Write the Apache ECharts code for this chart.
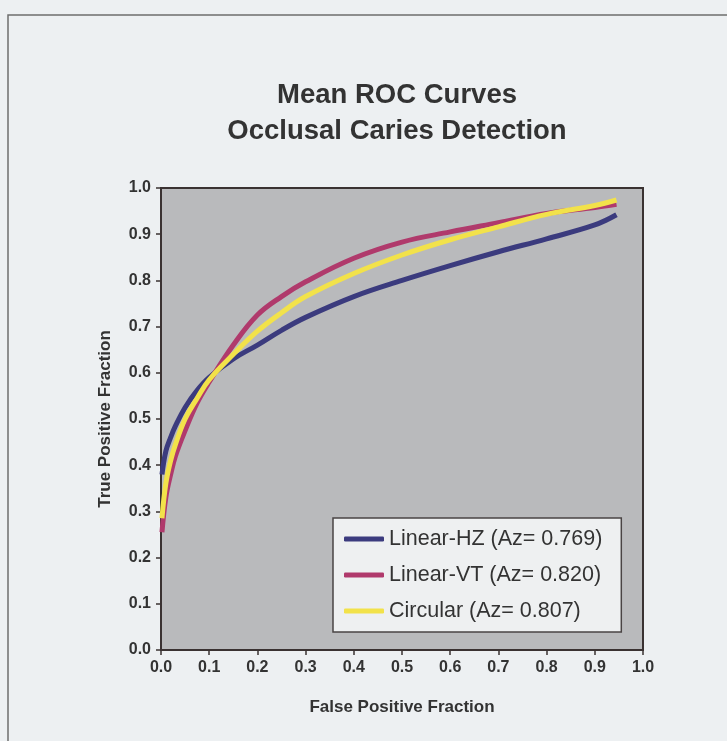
<!DOCTYPE html>
<html>
<head>
<meta charset="utf-8">
<title>Mean ROC Curves</title>
<script src="https://cdn.jsdelivr.net/npm/echarts@6/dist/echarts.min.js"></script>
<style>
  html, body { margin: 0; padding: 0; background: #edf0f2; }
  #chart { width: 727px; height: 741px; }
</style>
</head>
<body>
<div id="chart"></div>
<script>
// false positive fraction (x) shared by all three curves
const fpf = [0.002, 0.01, 0.02, 0.03, 0.05, 0.075, 0.1, 0.15, 0.2, 0.25, 0.3, 0.4, 0.5, 0.6, 0.7, 0.8, 0.9, 0.945];

// true positive fraction per curve
const linearHZ = [0.38, 0.43, 0.46, 0.485, 0.525, 0.562, 0.59, 0.63, 0.66, 0.692, 0.72, 0.765, 0.80, 0.832, 0.862, 0.89, 0.92, 0.942];
const linearVT = [0.255, 0.33, 0.38, 0.42, 0.475, 0.535, 0.58, 0.66, 0.725, 0.765, 0.797, 0.848, 0.883, 0.905, 0.925, 0.945, 0.958, 0.965];
const circular = [0.285, 0.36, 0.41, 0.445, 0.50, 0.545, 0.585, 0.64, 0.69, 0.73, 0.765, 0.815, 0.855, 0.888, 0.916, 0.943, 0.962, 0.974];

const seriesNames = ['Linear-HZ (Az= 0.769)', 'Linear-VT (Az= 0.820)', 'Circular (Az= 0.807)'];
const seriesColors = ['#3b3b7e', '#b03a6c', '#f2e24a'];
const axisTicks = [0, 0.1, 0.2, 0.3, 0.4, 0.5, 0.6, 0.7, 0.8, 0.9, 1.0];

const font = '"Liberation Sans", Arial, sans-serif';
const toPairs = ys => fpf.map((x, i) => [x, ys[i]]);

const chart = echarts.init(document.getElementById('chart'));

const axisCommon = {
  type: 'value',
  min: axisTicks[0],
  max: axisTicks[axisTicks.length - 1],
  interval: 0.1,
  axisLine: { show: true, lineStyle: { color: '#3a3232', width: 2 } },
  axisTick: { show: true, length: 5, lineStyle: { color: '#3a3232', width: 1.5 } },
  axisLabel: {
    color: '#333', fontSize: 16, fontWeight: 'bold', fontFamily: font,
    formatter: v => v.toFixed(1)
  },
  splitLine: { show: false },
  nameLocation: 'middle',
  nameTextStyle: { color: '#333', fontSize: 17, fontWeight: 'bold', fontFamily: font }
};

chart.setOption({
  animation: false,
  backgroundColor: '#edf0f2',
  title: {
    text: 'Mean ROC Curves\nOcclusal Caries Detection',
    left: 392,
    top: 72,
    textAlign: 'center',
    textStyle: { color: '#333', fontSize: 27.5, fontWeight: 'bold', fontFamily: font, lineHeight: 36 }
  },
  graphic: [{
    type: 'rect',
    shape: { x: 8, y: 15, width: 760, height: 760 },
    style: { fill: 'none', stroke: '#6e6e6e', lineWidth: 1.5 },
    silent: true
  }],
  grid: {
    left: 161, top: 188, width: 482, height: 462,
    show: true,
    backgroundColor: '#b9babc',
    borderColor: '#3a3232',
    borderWidth: 2
  },
  legend: {
    orient: 'vertical',
    left: 333,
    top: 518,
    padding: [10, 19, 10, 11],
    itemGap: 14,
    itemWidth: 40,
    itemHeight: 5,
    icon: 'roundRect',
    backgroundColor: '#eef0f1',
    borderColor: '#4a4444',
    borderWidth: 1.5,
    textStyle: { color: '#333', fontSize: 21.5, fontFamily: font },
    data: seriesNames
  },
  xAxis: Object.assign({}, axisCommon, {
    name: 'False Positive Fraction',
    nameGap: 49,
    axisLabel: Object.assign({}, axisCommon.axisLabel, { margin: 10 })
  }),
  yAxis: Object.assign({}, axisCommon, {
    name: 'True Positive Fraction',
    nameGap: 47,
    axisLabel: Object.assign({}, axisCommon.axisLabel, { margin: 10 })
  }),
  series: [linearHZ, linearVT, circular].map((ys, i) => ({
    name: seriesNames[i],
    type: 'line',
    data: toPairs(ys),
    smooth: 0.4,
    symbol: 'none',
    color: seriesColors[i],
    lineStyle: { width: 5, color: seriesColors[i] }
  }))
});
</script>
</body>
</html>
